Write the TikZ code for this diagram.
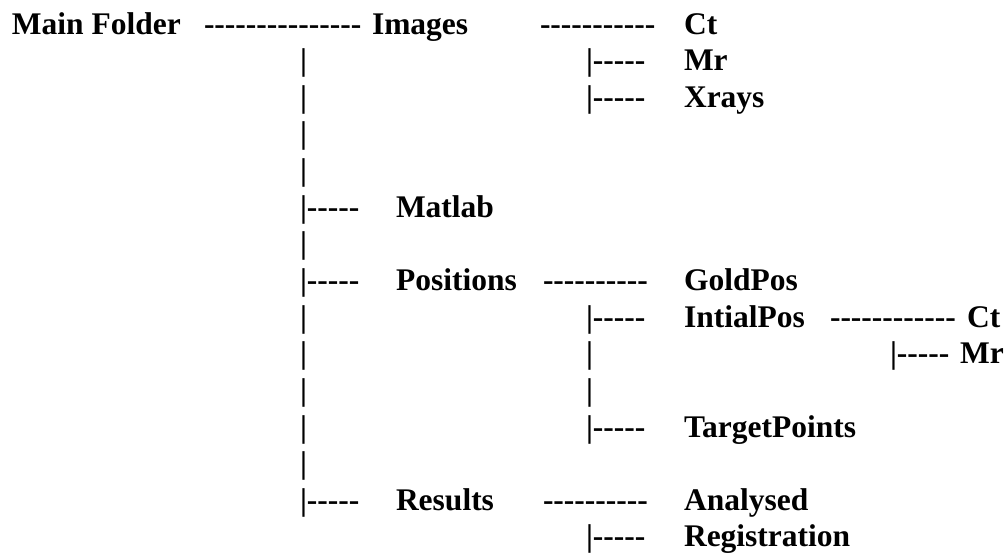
\documentclass[tikz,border=0pt]{standalone}
\usepackage{fontspec}
\setmainfont{Liberation Serif}[Ligatures=TeXOff]
\begin{document}
\begin{tikzpicture}[x=1pt,y=-1pt,
  txt/.style={anchor=base west,inner sep=0pt,outer sep=0pt,font=\fontsize{31.5}{37}\selectfont\bfseries}]
\useasboundingbox[fill=white] (0,0) rectangle (1006,552);
\def\rh{36.64}
% row 1
\node[txt] (main) at (12,34) {Main Folder};
\node[txt] (d1) at (204,34) {---------------};
\node[txt] (images) at (372,34) {Images};
\node[txt] (d2) at (540,34) {-----------};
\node[txt] (ct1) at (684,34) {Ct};
% row 2
\node[txt] (p2a) at (300,34+1*\rh) {|};
\node[txt] (b2) at (586,34+1*\rh) {|-----};
\node[txt] (mr1) at (684,34+1*\rh) {Mr};
% row 3
\node[txt] (p3a) at (300,34+2*\rh) {|};
\node[txt] (b3) at (586,34+2*\rh) {|-----};
\node[txt] (xrays) at (684,34+2*\rh) {Xrays};
% row 4,5
\node[txt] (p4a) at (300,34+3*\rh) {|};
\node[txt] (p5a) at (300,34+4*\rh) {|};
% row 6
\node[txt] (b6) at (300,34+5*\rh) {|-----};
\node[txt] (matlab) at (396,34+5*\rh) {Matlab};
% row 7
\node[txt] (p7a) at (300,34+6*\rh) {|};
% row 8
\node[txt] (b8) at (300,34+7*\rh) {|-----};
\node[txt] (positions) at (396,34+7*\rh) {Positions};
\node[txt] (d8) at (543,34+7*\rh) {----------};
\node[txt] (goldpos) at (684,34+7*\rh) {GoldPos};
% row 9
\node[txt] (p9a) at (300,34+8*\rh) {|};
\node[txt] (b9) at (586,34+8*\rh) {|-----};
\node[txt] (intialpos) at (684,34+8*\rh) {IntialPos};
\node[txt] (d9) at (830,34+8*\rh) {------------};
\node[txt] (ct2) at (967,34+8*\rh) {Ct};
% row 10
\node[txt] (p10a) at (300,34+9*\rh) {|};
\node[txt] (p10b) at (586,34+9*\rh) {|};
\node[txt] (b10) at (890,34+9*\rh) {|-----};
\node[txt] (mr2) at (960,34+9*\rh) {Mr};
% row 11
\node[txt] (p11a) at (300,34+10*\rh) {|};
\node[txt] (p11b) at (586,34+10*\rh) {|};
% row 12
\node[txt] (p12a) at (300,34+11*\rh) {|};
\node[txt] (b12) at (586,34+11*\rh) {|-----};
\node[txt] (target) at (684,34+11*\rh) {TargetPoints};
% row 13
\node[txt] (p13a) at (300,34+12*\rh) {|};
% row 14
\node[txt] (b14) at (300,34+13*\rh) {|-----};
\node[txt] (results) at (396,34+13*\rh) {Results};
\node[txt] (d14) at (543,34+13*\rh) {----------};
\node[txt] (analysed) at (684,34+13*\rh) {Analysed};
% row 15
\node[txt] (b15) at (586,34+14*\rh) {|-----};
\node[txt] (registration) at (684,34+14*\rh) {Registration};
\end{tikzpicture}
\end{document}
